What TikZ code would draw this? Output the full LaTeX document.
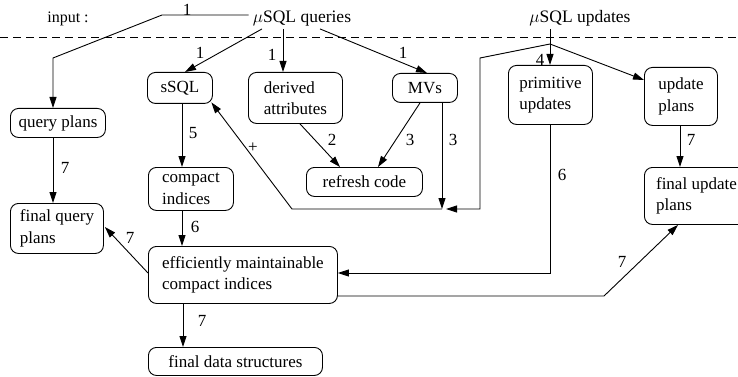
\documentclass[tikz,border=0pt]{standalone}
\usepackage{fontspec}
\setmainfont{Liberation Serif}
\usetikzlibrary{arrows.meta}
\begin{document}
\begin{tikzpicture}[x=1pt,y=-1pt,
  box/.style={draw, rounded corners=8pt, line width=0.9pt, anchor=north west,
    inner sep=0pt, align=left, font=\fontsize{17}{21.5}\selectfont},
  arr/.style={draw, line width=0.9pt, -{Triangle[length=11pt,width=7pt]}},
  lbl/.style={font=\fontsize{17}{20}\selectfont, inner sep=0pt},
  head/.style={font=\fontsize{17.5}{20}\selectfont, inner sep=2pt, anchor=base}]
\useasboundingbox (0,0) rectangle (738,377);

% inputs above the separator
\node[head, font=\fontsize{16}{19}\selectfont] (inp) at (68,23) {input :};
\node[head] (queries) at (302,23) {$\mu\mathrm{SQL\ queries}$};
\node[head] (updates) at (580,23) {$\mu\mathrm{SQL\ updates}$};
\draw[line width=0.8pt, dash pattern=on 8pt off 5pt] (0,37) -- (738,37);

% boxes
\node[box, minimum width=95pt,  minimum height=29pt] (qplans)  at (10,108)  {query plans};
\node[box, minimum width=93pt,  minimum height=50pt] (fqplans) at (10,203)  {final query\\plans};
\node[box, minimum width=65pt,  minimum height=31pt] (ssql)    at (147,72)  {sSQL};
\node[box, minimum width=94pt,  minimum height=51pt] (derived) at (248,72)  {derived\\attributes};
\node[box, minimum width=65pt,  minimum height=29pt] (mvs)     at (392,73)  {MVs};
\node[box, minimum width=84pt,  minimum height=59pt] (prim)    at (508,65)  {primitive\\updates};
\node[box, minimum width=73pt,  minimum height=58pt] (uplans)  at (644,67)  {update\\plans};
\node[box, minimum width=85pt,  minimum height=43pt] (compact) at (148,167) {compact\\indices};
\node[box, minimum width=116pt, minimum height=29pt] (refresh) at (306,167) {refresh code};
\node[box, minimum width=104pt, minimum height=57pt] (fuplans) at (644,167) {final update\\plans};
\node[box, minimum width=189pt, minimum height=57pt] (effic)   at (148,246) {efficiently maintainable\\compact indices};
\node[box, minimum width=174pt, minimum height=28pt] (fdata)   at (148,347) {final data structures};

\coordinate (J) at (550,44);
\coordinate (T) at (442,209);

% connectors from the query input
\draw[arr] ([xshift=-2pt]queries.west |- 0,15) -- (162,15) -- (53,58) -- (53,0 |- qplans.north);
\draw[arr] (queries.south -| 262,0) -- (185,0 |- ssql.north);
\draw[arr] (queries.south -| 283,0) -- (283,0 |- derived.north);
\draw[arr] (queries.south -| 320,0) -- (427,0 |- mvs.north);

% connectors from the update input
\draw[arr] (updates.south -| 550,0) -- (550,0 |- prim.north);
\draw[arr] (J) -- (uplans.west |- 0,80);
\draw[arr] (J) -- (480,58) -- (480,209) -- ([xshift=4pt]T);

% middle part
\draw[arr] (mvs.south -| 442,0) -- (T);
\draw[arr] (T) -- (292,209) -- ([xshift=-1.5pt,yshift=1.5pt]ssql.south east);
\draw[arr] (mvs.south -| 420,0) -- (378,0 |- refresh.north);
\draw[arr] (derived.south -| 300,0) -- (340,0 |- refresh.north);
\draw[arr] (ssql.south -| 182,0) -- (182,0 |- compact.north);
\draw[arr] (compact.south -| 182,0) -- (182,0 |- effic.north);
\draw[arr] (prim.south -| 550,0) -- (550,273) -- (effic.east |- 0,273);
\draw[arr] (uplans.south -| 680,0) -- (680,0 |- fuplans.north);
\draw[arr] (effic.east |- 0,296) -- (604,296) -- (678,0 |- fuplans.south);
\draw[arr] (effic.west |- 0,273) -- ([xshift=1pt]fqplans.east |- 0,227);
\draw[arr] (53,0 |- qplans.south) -- (53,0 |- fqplans.north);
\draw[arr] (183,0 |- effic.south) -- (183,0 |- fdata.north);

% step numbers
\node[lbl] at (187,10)  {1};
\node[lbl] at (200,53)  {1};
\node[lbl] at (272,55)  {1};
\node[lbl] at (403,53)  {1};
\node[lbl] at (540,60)  {4};
\node[lbl] at (253,148) {+};
\node[lbl] at (332,140) {2};
\node[lbl] at (410,140) {3};
\node[lbl] at (453,140) {3};
\node[lbl] at (193,133) {5};
\node[lbl] at (195,227) {6};
\node[lbl] at (562,175) {6};
\node[lbl] at (691,140) {7};
\node[lbl] at (622,262) {7};
\node[lbl] at (130,238) {7};
\node[lbl] at (65,168)  {7};
\node[lbl] at (202,321) {7};
\end{tikzpicture}
\end{document}
